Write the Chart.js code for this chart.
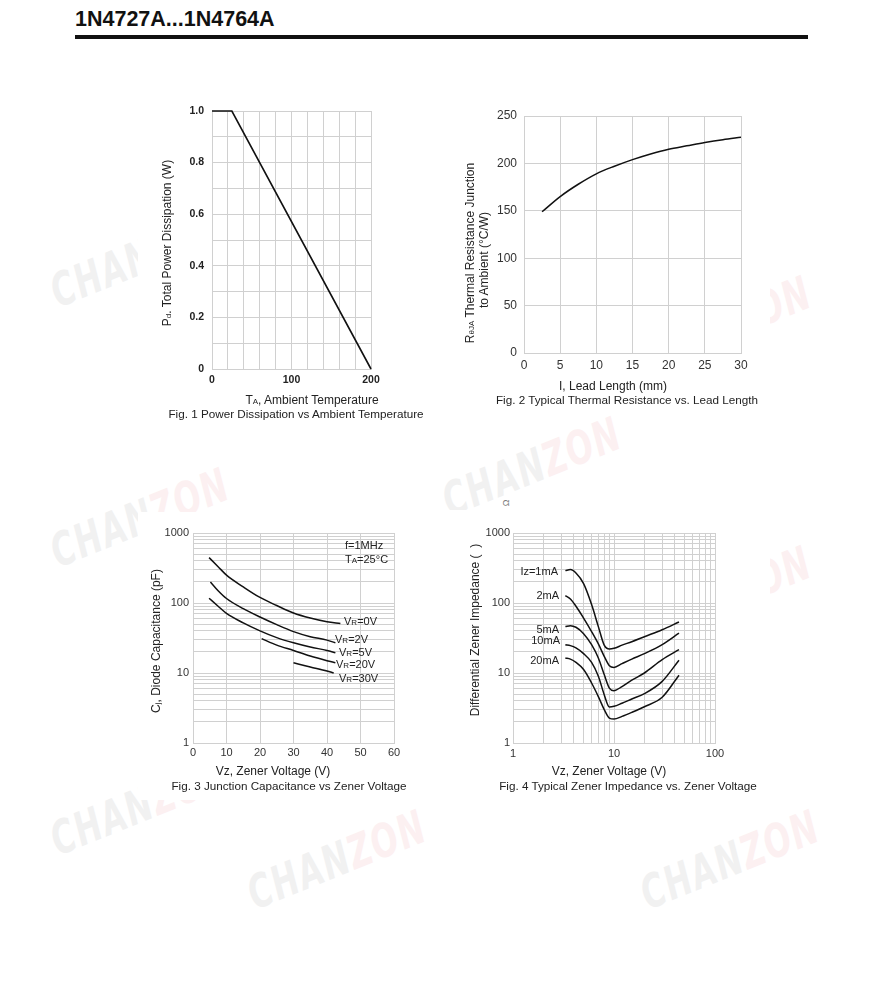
<!DOCTYPE html>
<html>
<head>
<meta charset="utf-8">
<title>1N4727A...1N4764A</title>
<script src="https://cdn.jsdelivr.net/npm/chart.js@4.4.1/dist/chart.umd.min.js"></script>
<style>
  body { margin: 0; background: #fff; font-family: "Liberation Sans", Arial, sans-serif; color: #222; }
  #page { position: relative; width: 875px; height: 1000px; overflow: hidden; }
  .wm { position: absolute; font-family: "DejaVu Sans Condensed", "Liberation Sans", sans-serif;
        font-style: italic; font-weight: bold; font-size: 44px; letter-spacing: 2px; line-height: 1;
        transform: translate(-50%, -50%) rotate(-22deg) scale(0.8, 1.05); white-space: nowrap; z-index: 0; }
  .wm .a { color: #f1f1f1; }
  .wm .b { color: #fcf0f1; }
  .box { position: absolute; background: #fff; z-index: 1; }
  canvas { position: absolute; z-index: 2; }
  .t { position: absolute; z-index: 3; white-space: nowrap; font-size: 12px; line-height: 1; color: #222; }
  .cap { font-size: 11.7px; }
  .c { transform: translateX(-50%); }
  .ra { transform: translateX(-100%); }
  .v { transform: translate(-50%, -50%) rotate(-90deg); }
  .s { font-size: 8px; }
  .n { font-size: 11px; }
  #head { position: absolute; left: 75px; top: 9px; font-size: 21.5px; font-weight: bold; line-height: 1; color: #111; }
  #rule { position: absolute; left: 75px; top: 35px; width: 733px; height: 4px; background: #111; }
</style>
</head>
<body>
<div id="page">
  <div id="head">1N4727A...1N4764A</div>
  <div id="rule"></div>

  <div class="wm" style="left:140px;top:258px"><span class="a">CHAN</span><span class="b">ZON</span></div>
  <div class="wm" style="left:722px;top:326px"><span class="a">CHAN</span><span class="b">ZON</span></div>
  <div class="wm" style="left:532px;top:467px"><span class="a">CHAN</span><span class="b">ZON</span></div>
  <div class="wm" style="left:140px;top:518px"><span class="a">CHAN</span><span class="b">ZON</span></div>
  <div class="wm" style="left:722px;top:596px"><span class="a">CHAN</span><span class="b">ZON</span></div>
  <div class="wm" style="left:140px;top:806px"><span class="a">CHAN</span><span class="b">ZON</span></div>
  <div class="wm" style="left:337px;top:860px"><span class="a">CHAN</span><span class="b">ZON</span></div>
  <div class="wm" style="left:730px;top:860px"><span class="a">CHAN</span><span class="b">ZON</span></div>

  <div class="box" style="left:138px;top:95px;width:302px;height:330px"></div>
  <div class="box" style="left:445px;top:100px;width:325px;height:315px"></div>
  <div class="box" style="left:138px;top:512px;width:302px;height:288px"></div>
  <div class="box" style="left:445px;top:510px;width:325px;height:290px"></div>

  <canvas id="fig1" width="250" height="300" style="left:140px;top:95px"></canvas>
  <canvas id="fig2" width="310" height="280" style="left:450px;top:100px"></canvas>
  <canvas id="fig3" width="270" height="250" style="left:140px;top:515px"></canvas>
  <canvas id="fig4" width="285" height="250" style="left:450px;top:515px"></canvas>

  <!-- fig 1 texts -->
  <div class="t v" style="left:167px;top:243px">P<span class="s">d</span>. Total Power Dissipation (W)</div>
  <div class="t c" style="left:312px;top:394px">T<span class="s">A</span>, Ambient Temperature</div>
  <div class="t c cap" style="left:296px;top:408px">Fig. 1 Power Dissipation vs Ambient Temperature</div>

  <!-- fig 2 texts -->
  <div class="t v" style="left:470px;top:253px">R<span class="s">θJA</span> Thermal Resistance Junction</div>
  <div class="t v" style="left:484px;top:260px">to Ambient (°C/W)</div>
  <div class="t c" style="left:613px;top:380px">I, Lead Length (mm)</div>
  <div class="t c cap" style="left:627px;top:394px">Fig. 2 Typical Thermal Resistance vs. Lead Length</div>

  <!-- fig 3 texts -->
  <div class="t v" style="left:156px;top:641px">C<span class="s">j</span>, Diode Capacitance (pF)</div>
  <div class="t n" style="left:345px;top:540px">f=1MHz</div>
  <div class="t n" style="left:345px;top:554px">T<span class="s">A</span>=25°C</div>
  <div class="t n" style="left:344px;top:616px">V<span class="s">R</span>=0V</div>
  <div class="t n" style="left:335px;top:634px">V<span class="s">R</span>=2V</div>
  <div class="t n" style="left:339px;top:647px">V<span class="s">R</span>=5V</div>
  <div class="t n" style="left:336px;top:659px">V<span class="s">R</span>=20V</div>
  <div class="t n" style="left:339px;top:673px">V<span class="s">R</span>=30V</div>
  <div class="t c" style="left:273px;top:765px">Vz, Zener Voltage (V)</div>
  <div class="t c cap" style="left:289px;top:780px">Fig. 3 Junction Capacitance vs Zener Voltage</div>

  <!-- fig 4 texts -->
  <div class="t v" style="left:475px;top:630px">Differential Zener Impedance (&nbsp;&nbsp;)</div>
  <div class="t v" style="left:506px;top:503px;font-size:9px;color:#777">Ω</div>
  <div class="t n ra" style="left:558px;top:566px">Iz=1mA</div>
  <div class="t n ra" style="left:559px;top:590px">2mA</div>
  <div class="t n ra" style="left:559px;top:624px">5mA</div>
  <div class="t n ra" style="left:560px;top:635px">10mA</div>
  <div class="t n ra" style="left:559px;top:655px">20mA</div>
  <div class="t c" style="left:609px;top:765px">Vz, Zener Voltage (V)</div>
  <div class="t c cap" style="left:628px;top:780px">Fig. 4 Typical Zener Impedance vs. Zener Voltage</div>
</div>

<script>
// Fig. 1 power derating
const fig1Temp = [0, 25, 200];
const fig1Power = [1.0, 1.0, 0];
const fig1XLabels = [0, 100, 200];
const fig1YLabels = [0, 0.2, 0.4, 0.6, 0.8, 1.0];

// Fig. 2 thermal resistance vs lead length
const fig2Length = [2.5, 5, 7.5, 10, 12.5, 15, 17.5, 20, 22.5, 25, 27.5, 30];
const fig2Rth = [149, 165, 178, 189, 197, 204, 210, 215, 218.5, 222, 225, 227.5];

// Fig. 3 junction capacitance, one curve per reverse voltage
const vr0Vz = [4.8, 7.5, 10, 15, 20, 25, 30, 35, 40, 44];
const vr0Cap = [445, 330, 250, 170, 120, 92, 72, 61, 54, 51];
const vr2Vz = [5.2, 7.5, 10, 15, 20, 25, 30, 35, 40, 42.5];
const vr2Cap = [200, 150, 116, 83, 63, 49, 39, 33, 29.5, 27];
const vr5Vz = [4.8, 7.5, 10, 15, 20, 25, 30, 35, 40, 42.5];
const vr5Cap = [117, 90, 71, 52, 40, 32, 27, 23.5, 21, 19.5];
const vr20Vz = [20.5, 25, 30, 35, 40, 42.5];
const vr20Cap = [31, 25, 21, 17.5, 15, 14];
const vr30Vz = [30, 35, 40, 42];
const vr30Cap = [14, 12.2, 10.7, 10];
const fig3YTicks = [1, 2, 3, 4, 5, 6, 7, 8, 9, 10, 20, 30, 40, 50, 60, 70, 80, 90, 100, 200, 300, 400, 500, 600, 700, 800, 900, 1000];

// Fig. 4 zener impedance, one curve per test current
const fig4Vz = [3.3, 3.7, 4.2, 5, 6, 7, 8, 9, 10, 12, 15, 20, 30, 44];
const iz1mA = [290, 300, 268, 189, 95, 46, 25, 22, 22.5, 25, 28, 33, 41.5, 53.6];
const iz2mA = [127, 114, 90, 61, 39, 26, 17.3, 12.7, 12, 13.6, 15.8, 18.9, 25.4, 37];
const iz5mA = [46, 47.5, 45, 36.5, 25.4, 16.4, 9.5, 6.1, 5.6, 6.4, 7.9, 10, 15.5, 21.5];
const iz10mA = [25.4, 24.6, 22.8, 18.9, 14.2, 9, 4.9, 3.27, 3.34, 3.7, 4.25, 5.07, 7.6, 15.2];
const iz20mA = [16.4, 15.8, 14.2, 11.2, 7.2, 4.6, 3.0, 2.27, 2.2, 2.4, 2.74, 3.3, 4.5, 9.3];
const fig4XTicks = [1, 2, 3, 4, 5, 6, 7, 8, 9, 10, 20, 30, 40, 50, 60, 70, 80, 90, 100];
const fig4YTicks = fig3YTicks;
const decades = [1, 10, 100, 1000];

const gridColor = '#d0d0d0';
const inkColor = '#111';
const tickFont = { family: 'Liberation Sans, Arial, sans-serif', size: 11 };

function points(xs, ys) {
    return xs.map((x, i) => ({ x: x, y: ys[i] }));
}

function curve(xs, ys) {
    return {
        data: points(xs, ys),
        borderColor: inkColor,
        borderWidth: 1.5,
        pointRadius: 0,
        fill: false,
        cubicInterpolationMode: 'monotone'
    };
}

function baseOptions(padTop, padRight) {
    return {
        responsive: false,
        animation: false,
        events: [],
        layout: { padding: { top: padTop, right: padRight, left: 0, bottom: 0 } },
        plugins: { legend: { display: false }, tooltip: { enabled: false } }
    };
}

function logTicks(list) {
    return scale => { scale.ticks = list.map(v => ({ value: v })); };
}

// Fig. 1
new Chart(document.getElementById('fig1'), {
    type: 'line',
    data: {
        datasets: [{
            data: points(fig1Temp, fig1Power),
            borderColor: inkColor,
            borderWidth: 1.6,
            pointRadius: 0,
            tension: 0,
            clip: false
        }]
    },
    options: {
        ...baseOptions(16, 19),
        scales: {
            x: {
                type: 'linear', min: 0, max: 200,
                afterFit: s => { s.height = 26; },
                ticks: {
                    stepSize: 20, autoSkip: false, maxRotation: 0, padding: 5, color: '#222',
                    font: { ...tickFont, weight: 'bold', size: 10.5 },
                    callback: v => fig1XLabels.includes(v) ? String(v) : ''
                },
                grid: { color: gridColor, drawTicks: false },
                border: { color: gridColor }
            },
            y: {
                type: 'linear', min: 0, max: 1,
                afterFit: s => { s.width = 72; },
                ticks: {
                    stepSize: 0.1, autoSkip: false, padding: 8, color: '#222',
                    font: { ...tickFont, weight: 'bold', size: 10.5 },
                    callback: v => {
                        const hit = fig1YLabels.find(l => Math.abs(l - v) < 1e-6);
                        if (hit === undefined) return '';
                        return hit === 0 ? '0' : hit.toFixed(1);
                    }
                },
                grid: { color: gridColor, drawTicks: false },
                border: { color: gridColor }
            }
        }
    }
});

// Fig. 2
new Chart(document.getElementById('fig2'), {
    type: 'line',
    data: { datasets: [curve(fig2Length, fig2Rth)] },
    options: {
        ...baseOptions(16, 19),
        scales: {
            x: {
                type: 'linear', min: 0, max: 30,
                afterFit: s => { s.height = 27; },
                ticks: { stepSize: 5, autoSkip: false, maxRotation: 0, padding: 5, color: '#333', font: { ...tickFont, size: 12 } },
                grid: { color: gridColor, drawTicks: false },
                border: { color: gridColor }
            },
            y: {
                type: 'linear', min: 0, max: 250,
                afterFit: s => { s.width = 74; },
                ticks: { stepSize: 50, autoSkip: false, padding: 7, color: '#333', font: { ...tickFont, size: 12 } },
                grid: { color: gridColor, drawTicks: false },
                border: { color: gridColor }
            }
        }
    }
});

// Fig. 3
new Chart(document.getElementById('fig3'), {
    type: 'line',
    data: {
        datasets: [
            curve(vr0Vz, vr0Cap),
            curve(vr2Vz, vr2Cap),
            curve(vr5Vz, vr5Cap),
            curve(vr20Vz, vr20Cap),
            curve(vr30Vz, vr30Cap)
        ]
    },
    options: {
        ...baseOptions(18, 16),
        scales: {
            x: {
                type: 'linear', min: 0, max: 60,
                afterFit: s => { s.height = 22; },
                ticks: { stepSize: 10, autoSkip: false, maxRotation: 0, padding: 3, color: '#333', font: tickFont },
                grid: { color: gridColor, drawTicks: false },
                border: { color: gridColor }
            },
            y: {
                type: 'logarithmic', min: 1, max: 1000,
                afterFit: s => { s.width = 53; },
                afterBuildTicks: logTicks(fig3YTicks),
                ticks: { autoSkip: false, padding: 4, color: '#333', font: tickFont, callback: v => decades.includes(v) ? String(v) : '' },
                grid: { color: gridColor, drawTicks: false },
                border: { color: gridColor }
            }
        }
    }
});

// Fig. 4
new Chart(document.getElementById('fig4'), {
    type: 'line',
    data: {
        datasets: [
            curve(fig4Vz, iz1mA),
            curve(fig4Vz, iz2mA),
            curve(fig4Vz, iz5mA),
            curve(fig4Vz, iz10mA),
            curve(fig4Vz, iz20mA)
        ]
    },
    options: {
        ...baseOptions(18, 20),
        scales: {
            x: {
                type: 'logarithmic', min: 1, max: 100,
                afterFit: s => { s.height = 22; },
                afterBuildTicks: logTicks(fig4XTicks),
                ticks: { autoSkip: false, maxRotation: 0, padding: 4, color: '#333', font: tickFont, callback: v => decades.includes(v) ? String(v) : '' },
                grid: { color: gridColor, drawTicks: false },
                border: { color: gridColor }
            },
            y: {
                type: 'logarithmic', min: 1, max: 1000,
                afterFit: s => { s.width = 63; },
                afterBuildTicks: logTicks(fig4YTicks),
                ticks: { autoSkip: false, padding: 3, color: '#333', font: tickFont, callback: v => decades.includes(v) ? String(v) : '' },
                grid: { color: gridColor, drawTicks: false },
                border: { color: gridColor }
            }
        }
    }
});
</script>
</body>
</html>
